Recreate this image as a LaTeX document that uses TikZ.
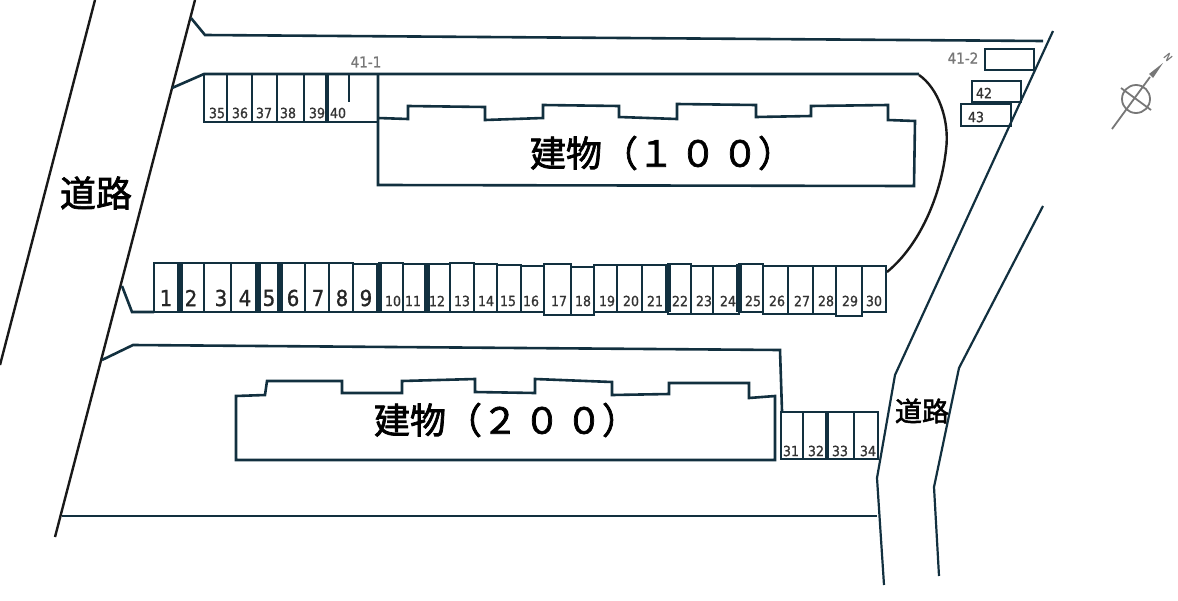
\documentclass[tikz,border=0pt]{standalone}
\usepackage{fontspec}
\setmainfont{DejaVu Sans}[FakeStretch=0.9,FakeBold=1]
\newfontfamily\cjk{Noto Sans CJK JP}[FakeBold=2]
\usepackage{xcolor}
\definecolor{plan}{HTML}{12303F}
\definecolor{marktext}{HTML}{777777}
\usetikzlibrary{calc}
\tikzset{
    planline/.style={draw=plan, line width=1.3pt, line join=miter},
    roadline/.style={draw=plan, line width=1.1pt},
    blackline/.style={draw=black!90, line width=1.2pt},
    thickdiv/.style={draw=plan, line width=2.8pt},
    bignum/.style={font=\fontsize{11}{11}\selectfont, text=black!85, inner sep=0pt},
    smallnum/.style={font=\fontsize{7}{7}\selectfont, text=black!80, inner sep=0pt},
    marktag/.style={font=\fontsize{7.5}{7.5}\selectfont, text=marktext, inner sep=0pt},
    kanji/.style={font=\cjk\fontsize{18}{18}\selectfont, text=black, inner sep=0pt},
    compassline/.style={draw=marktext, line width=0.9pt}
}

\begin{document}
\begin{tikzpicture}[x=0.5pt,y=-0.5pt]
    \useasboundingbox (0,0) rectangle (1178,600);

    % Road left
    \draw[blackline] (95,0) -- (0,365);
    \draw[blackline] (195,0) -- (55,537);
    \node[kanji] (roadleft) at (96,193) {道路};

    % Road right
    \draw[roadline] (1053,31) -- (895,375) -- (877,478) -- (884,585);
    \draw[roadline] (1043,206) -- (959,368) -- (934,487) -- (939,576);
    \node[kanji, font=\cjk\fontsize{13.5}{13.5}\selectfont] (roadright) at (922,411) {道路};

    % Site boundary
    \draw[planline] (191,18) -- (205,35) -- (1043,41);
    \draw[planline] (172,88) -- (204,74) -- (919,74);
    \draw[blackline] (919,75) .. controls (938,88) and (950,120) .. (946,150)
        .. controls (941,195) and (920,245) .. (887,272);
    \draw[planline] (122,286) -- (132,312) -- (154,312);
    \draw[planline] (102,360) -- (133,345) -- (780,350) -- (782,411);
    \draw[planline] (62,516) -- (877,516);

    % Building 100
    \draw[planline] (378,74) -- (378,118) -- (408,119) -- (408,106) -- (485,107) -- (485,120)
        -- (543,118) -- (543,105) -- (619,106) -- (619,117) -- (677,119) -- (677,104)
        -- (756,105) -- (756,117) -- (811,116) -- (811,106) -- (888,105) -- (888,120)
        -- (915,121) -- (914,186) -- (378,185) -- cycle;
    \node[kanji] (build100) at (662,153) {建物（１\,０\,０）};

    % Building 200
    \draw[planline] (236,396) -- (265,395) -- (267,381) -- (342,381) -- (342,393) -- (402,393)
        -- (402,381) -- (475,379) -- (475,392) -- (535,393) -- (535,379) -- (612,382)
        -- (612,395) -- (669,394) -- (669,383) -- (749,383) -- (749,398) -- (775,396)
        -- (775,460) -- (236,460) -- cycle;
    \node[kanji] (build200) at (506,420) {建物（２\,０\,０）};

    % Parking 1-30
    \foreach \xl/\xr/\yt/\yb/\lx/\num in {
        154/180/263/312/166/1, 180/204/263/312/191/2, 204/231/263/312/221/3,
        231/258/263/312/245/4, 258/280/263/312/269/5, 280/305/263/312/293/6,
        305/329/263/312/318/7, 329/353/263/312/342/8, 353/379/264/312/366/9} {
        \draw[planline] (\xl,\yt) rectangle (\xr,\yb);
        \node[bignum] (park\num) at (\lx,298) {\num};
    }
    \foreach \xl/\xr/\yt/\yb/\lx/\num in {
        379/403/263/312/393/10, 403/427/264/312/413/11, 427/450/264/312/437/12,
        450/474/263/312/462/13, 474/497/264/312/486/14, 497/521/265/312/508/15,
        521/544/266/312/531/16, 544/571/264/315/559/17, 571/594/267/315/583/18,
        594/617/265/312/607/19, 617/642/265/312/631/20, 642/668/265/312/655/21,
        668/691/264/314/680/22, 691/713/266/314/704/23, 713/739/266/314/728/24,
        739/763/264/312/753/25, 763/788/266/314/777/26, 788/813/266/314/802/27,
        813/836/266/314/826/28, 836/862/266/316/850/29, 862/886/266/312/874/30} {
        \draw[planline] (\xl,\yt) rectangle (\xr,\yb);
        \node[smallnum] (park\num) at (\lx,301) {\num};
    }
    \foreach \x in {180,258,280,379,427,668,739} {
        \draw[thickdiv] (\x,264) -- (\x,312);
    }

    % Parking 31-34
    \foreach \xl/\xr/\lx/\num in {781/803/791/31, 803/827/816/32, 827/854/840/33, 854/878/868/34} {
        \draw[planline] (\xl,412) rectangle (\xr,459);
        \node[smallnum] (park\num) at (\lx,451) {\num};
    }
    \draw[thickdiv, line width=1.8pt] (827,412) -- (827,459);

    % Parking 35-41
    \foreach \xl/\xr/\lx/\num in {204/227/217/35, 227/252/240/36, 252/277/264/37, 277/304/288/38, 304/327/317/39, 327/378/338/40} {
        \draw[planline] (\xl,74) rectangle (\xr,122);
        \node[smallnum] (park\num) at (\lx,113) {\num};
    }
    \draw[thickdiv, line width=1.8pt] (327,74) -- (327,122);
    \draw[planline] (349,74) -- (349,102);
    \node[marktag] (tag411) at (366,62) {41-1};

    % Parking 41-2, 42, 43
    \draw[planline] (985,49) rectangle (1034,70);
    \node[marktag] (tag412) at (963,58) {41-2};
    \draw[planline] (972,81) rectangle (1021,102);
    \node[smallnum] (park42) at (984,93) {42};
    \draw[planline] (961,104) rectangle (1011,126);
    \node[smallnum] (park43) at (976,117) {43};

    % Compass
    \draw[compassline] (1136,99) circle (14);
    \draw[compassline] (1112,129) -- (1150,77);
    \draw[compassline] (1121,88) -- (1151,110);
    \fill[marktext] (1149,74) -- (1153,78) -- (1163,63) -- cycle;
    \node[marktag, font=\fontsize{5}{5}\selectfont, rotate=-50] (north) at (1168,57) {N};
\end{tikzpicture}
\end{document}
